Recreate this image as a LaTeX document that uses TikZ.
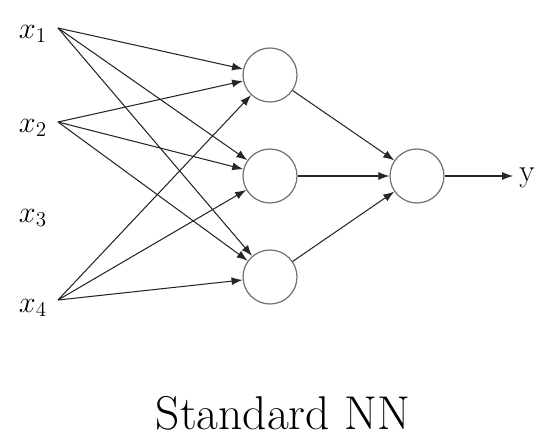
\documentclass[tikz,border=0pt]{standalone}
\usepackage{tikz}
\usetikzlibrary{arrows.meta,positioning}
\begin{document}
\begin{tikzpicture}[
  x=0.02cm, y=-0.02cm,
  neuron/.style={draw=black!55, circle, minimum size=10.8mm, inner sep=0pt, line width=0.7pt},
  inlabel/.style={font=\fontsize{18}{20}\selectfont, inner sep=0pt},
  edge/.style={->, draw=black!85, line width=0.6pt},
  >={Latex[length=2.2mm,width=1.6mm]}]
\useasboundingbox (0,0) rectangle (536,439);
% inputs
\node[inlabel] (x1) at (33,34) {$x_1$};
\node[inlabel] (x2) at (33,128) {$x_2$};
\node[inlabel] (x3) at (33,218) {$x_3$};
\node[inlabel] (x4) at (33,308) {$x_4$};
\coordinate (s1) at (58,28);
\coordinate (s2) at (58,122);
\coordinate (s4) at (58,300);
% hidden and output layer
\node[neuron] (h1) at (270,75) {};
\node[neuron] (h2) at (270,176) {};
\node[neuron] (h3) at (270,277) {};
\node[neuron] (o) at (417,176) {};
\node[font=\fontsize{18}{20}\selectfont, anchor=base] (y) at (527,181) {y};
\node[font=\fontsize{27}{32}\selectfont] (t) at (283,413) {Standard NN};
\foreach \i in {1,2,4}
  \foreach \j in {1,2,3}
    \draw[edge] (s\i) -- (h\j);
\foreach \j in {1,2,3}
  \draw[edge] (h\j) -- (o);
\draw[edge] (o) -- (o -| y.west);
\end{tikzpicture}
\end{document}
